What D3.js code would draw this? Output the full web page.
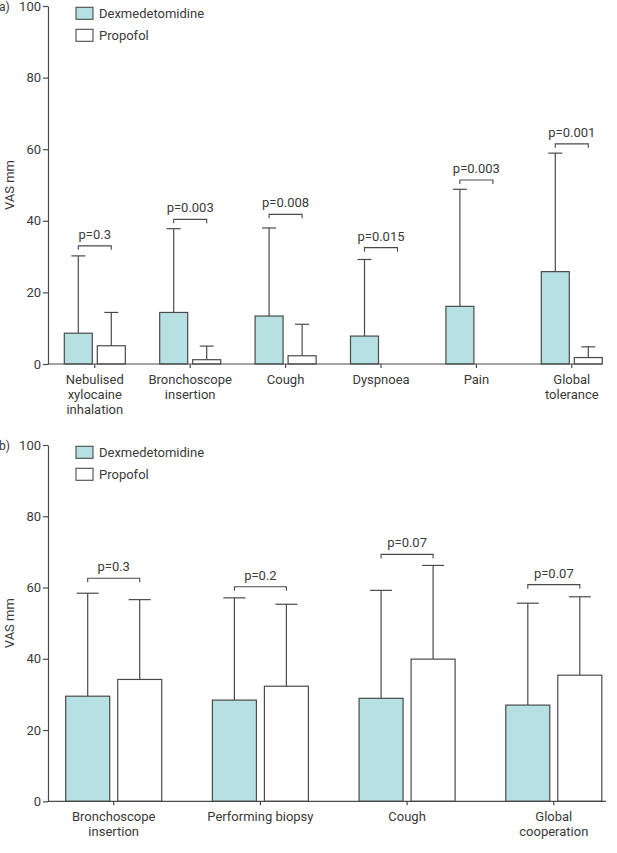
<!DOCTYPE html>
<html>
<head>
<meta charset="utf-8">
<script src="https://cdn.jsdelivr.net/npm/d3@7"></script>
<style>
  html, body { margin: 0; padding: 0; background: #fff; }
  svg { display: block; font-family: Roboto, "Open Sans", sans-serif; }
</style>
</head>
<body>
<svg id="chart" width="617" height="853"></svg>
<script>
// ---------- data ----------
const seriesNames = ["Dexmedetomidine", "Propofol"];
const yTicks = [0, 20, 40, 60, 80, 100];

const categoriesA = ["Nebulised\nxylocaine\ninhalation", "Bronchoscope\ninsertion", "Cough", "Dyspnoea", "Pain", "Global\ntolerance"];
const dexMeanA = [8.6, 14.4, 13.4, 7.8, 16.1, 25.8];
const dexUpperA = [30.2, 37.8, 38.0, 29.2, 48.8, 58.9];
const propMeanA = [5.1, 1.2, 2.3, 0, 0, 1.8];
const propUpperA = [14.4, 5.0, 11.1, null, null, 4.8];
const pLabelsA = ["p=0.3", "p=0.003", "p=0.008", "p=0.015", "p=0.003", "p=0.001"];
const pLevelA = [33.0, 40.4, 41.8, 32.5, 51.4, 61.5];

const categoriesB = ["Bronchoscope\ninsertion", "Performing biopsy", "Cough", "Global\ncooperation"];
const dexMeanB = [29.5, 28.4, 28.9, 27.0];
const dexUpperB = [58.4, 57.1, 59.2, 55.6];
const propMeanB = [34.2, 32.3, 39.9, 35.4];
const propUpperB = [56.6, 55.3, 66.2, 57.4];
const pLabelsB = ["p=0.3", "p=0.2", "p=0.07", "p=0.07"];
const pLevelB = [62.6, 60.2, 69.3, 60.8];

// ---------- styles ----------
const TEXT = "#3a3a3a";
const STROKE = "#4a4a4a";
const TEAL = "#b7e0e3";
const FS = 13;

const svg = d3.select("#chart");

function drawPanel(opt) {
  const g = svg.append("g");
  const y = d3.scaleLinear().domain([0, 100]).range([opt.y0, opt.y1]);
  const x0 = d3.scaleBand().domain(opt.cats).range(opt.xRange).paddingInner(0).paddingOuter(0);
  const groupW = 2 * opt.barW + opt.gap;
  const x1 = d3.scaleBand().domain(seriesNames).range([-groupW / 2, groupW / 2])
    .paddingInner(opt.gap / (opt.barW + opt.gap)).paddingOuter(0);
  const cx = c => x0(c) + x0.bandwidth() / 2;

  const rows = opt.cats.map((c, i) => ({
    cat: c,
    vals: [
      { s: seriesNames[0], v: opt.dex[i], e: opt.dexU[i] },
      { s: seriesNames[1], v: opt.prop[i], e: opt.propU[i] }
    ],
    p: opt.pLabels[i], pl: opt.pLevel[i]
  }));

  // error bars (drawn first so bars cover the stem)
  rows.forEach(r => {
    r.vals.forEach(d => {
      if (d.e == null) return;
      const xc = cx(r.cat) + x1(d.s) + x1.bandwidth() / 2;
      g.append("line").attr("x1", xc).attr("x2", xc).attr("y1", y(d.v)).attr("y2", y(d.e))
        .attr("stroke", STROKE).attr("stroke-width", 1.2);
      g.append("line").attr("x1", xc - x1.bandwidth() / 4).attr("x2", xc + x1.bandwidth() / 4)
        .attr("y1", y(d.e)).attr("y2", y(d.e))
        .attr("stroke", STROKE).attr("stroke-width", 1.2);
    });
  });

  // bars
  rows.forEach(r => {
    g.selectAll(null).data(r.vals.filter(d => d.v > 0)).enter().append("rect")
      .attr("x", d => cx(r.cat) + x1(d.s))
      .attr("y", d => y(d.v))
      .attr("width", x1.bandwidth())
      .attr("height", d => y(0) - y(d.v))
      .attr("fill", d => d.s === seriesNames[0] ? TEAL : "#fff")
      .attr("stroke", STROKE).attr("stroke-width", 1.2);
  });

  // p-value brackets
  rows.forEach(r => {
    const xa = cx(r.cat) + x1(seriesNames[0]) + x1.bandwidth() / 2;
    const xb = cx(r.cat) + x1(seriesNames[1]) + x1.bandwidth() / 2;
    const yy = y(r.pl);
    g.append("path")
      .attr("d", `M${xa},${yy + 4}V${yy}H${xb}V${yy + 4}`)
      .attr("fill", "none").attr("stroke", STROKE).attr("stroke-width", 1.1);
    g.append("text").attr("x", (xa + xb) / 2).attr("y", yy - 7)
      .attr("text-anchor", "middle").attr("font-size", FS).attr("fill", TEXT)
      .text(r.p);
  });

  // y axis
  const ya = g.append("g").attr("transform", `translate(${opt.axisX},0)`)
    .call(d3.axisLeft(y).tickValues(yTicks).tickSize(5).tickSizeOuter(0).tickPadding(2));
  ya.select(".domain").attr("stroke", STROKE).attr("stroke-width", 1.2);
  ya.selectAll(".tick line").attr("stroke", STROKE).attr("stroke-width", 1.2);
  ya.selectAll(".tick text").attr("font-size", FS).attr("fill", TEXT)
    .attr("font-family", "Roboto, sans-serif");

  // x axis
  const xa = g.append("g").attr("transform", `translate(0,${opt.y0})`)
    .call(d3.axisBottom(x0).tickSize(4).tickFormat(""));
  xa.select(".domain").remove();
  xa.selectAll(".tick line").attr("stroke", STROKE).attr("stroke-width", 1.2);
  g.append("line").attr("x1", opt.axisX).attr("x2", opt.axisEnd)
    .attr("y1", opt.y0).attr("y2", opt.y0)
    .attr("stroke", STROKE).attr("stroke-width", 1.2);

  // category labels
  opt.cats.forEach(c => {
    const t = g.append("text").attr("x", cx(c)).attr("y", opt.y0 + 20)
      .attr("text-anchor", "middle").attr("font-size", FS).attr("fill", TEXT);
    c.split("\n").forEach((line, k) => {
      t.append("tspan").attr("x", cx(c)).attr("dy", k === 0 ? 0 : 15).text(line);
    });
  });

  // y label
  g.append("text")
    .attr("transform", `translate(${opt.axisX - 34},${(opt.y0 + opt.y1) / 2}) rotate(-90)`)
    .attr("text-anchor", "middle").attr("font-size", FS).attr("fill", TEXT)
    .text("VAS mm");

  // panel letter
  g.append("text").attr("x", -1).attr("y", opt.y1 + 5).attr("font-size", FS - 1).attr("fill", TEXT)
    .text(opt.letter);

  // legend
  seriesNames.forEach((s, k) => {
    const ly = opt.y1 + 1.3 + k * 22;
    g.append("rect").attr("x", 76).attr("y", ly).attr("width", 17).attr("height", 12)
      .attr("fill", k === 0 ? TEAL : "#fff").attr("stroke", STROKE).attr("stroke-width", 1.1);
    g.append("text").attr("x", 99).attr("y", ly + 10.5).attr("font-size", FS).attr("fill", TEXT)
      .text(s);
  });
}

drawPanel({
  letter: "a)", cats: categoriesA,
  dex: dexMeanA, dexU: dexUpperA, prop: propMeanA, propU: propUpperA,
  pLabels: pLabelsA, pLevel: pLevelA,
  y0: 364, y1: 6, axisX: 48, axisEnd: 602,
  xRange: [47.1, 619.5], barW: 28, gap: 5
});

drawPanel({
  letter: "b)", cats: categoriesB,
  dex: dexMeanB, dexU: dexUpperB, prop: propMeanB, propU: propUpperB,
  pLabels: pLabelsB, pLevel: pLevelB,
  y0: 801.3, y1: 445, axisX: 48, axisEnd: 606,
  xRange: [40.35, 627.15], barW: 44, gap: 8
});
</script>
</body>
</html>
